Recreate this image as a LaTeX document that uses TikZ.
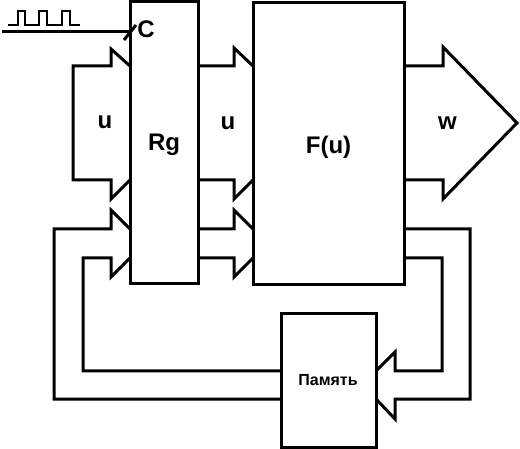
\documentclass[tikz,border=0pt]{standalone}
\usepackage{fontspec}
\setmainfont{Liberation Sans}
\tikzset{
  blk/.style={draw, line width=3pt, inner sep=0pt, outer sep=0pt},
  flow/.style={line width=3pt, line join=miter},
  pulse/.style={line width=2.5pt, line join=miter},
  lbl/.style={font=\bfseries\fontsize{24}{24}\selectfont, anchor=base, inner sep=0pt},
  small/.style={font=\bfseries\fontsize{16}{16}\selectfont, anchor=base, inner sep=0pt}
}
\begin{document}
\begin{tikzpicture}[x=1pt, y=-1pt]
\useasboundingbox (0,0) rectangle (520,449);
% blocks
\node[blk, minimum width=68pt, minimum height=282pt] (rg) at (164,143) {};
\node[blk, minimum width=151pt, minimum height=282pt] (f) at (328.5,144) {};
\node[blk, minimum width=95pt, minimum height=133pt] (mem) at (328.5,380.5) {};
% labels
\node[lbl] (lu1) at (105,129) {u};
\node[lbl] (lrg) at (164,151) {Rg};
\node[lbl] (lu2) at (228,130) {u};
\node[lbl] (lf) at (328.5,154) {F(u)};
\node[lbl] (lw) at (447.5,130) {w};
\node[lbl] (lc) at (146,38) {C};
\node[small] (lmem) at (328,385) {Память};
% clock
\coordinate (clk) at (2,32);
\draw[flow] (clk) -- (rg.west |- clk);
\draw[flow] (124,40) -- (136,25);
\draw[pulse] (8,25) -- (18,25) -- (18,11) -- (25,11) -- (25,25) -- (39,25) -- (39,11) -- (47,11) -- (47,25)
  -- (62,25) -- (62,11) -- (70,11) -- (70,25) -- (80,25);
% input block arrow u
\draw[flow] (rg.west |- 0,66) -- (111,49) -- (111,66) -- (73,66) -- (73,180) -- (111,180) -- (111,199) -- (rg.west |- 0,180);
% Rg -> F block arrow u
\draw[flow] (rg.east |- 0,66) -- (234,66) -- (234,48) -- (f.west |- 0,66);
\draw[flow] (rg.east |- 0,180) -- (234,180) -- (234,199) -- (f.west |- 0,180);
% output w
\draw[flow] (f.east |- 0,66) -- (443,66) -- (443,47) -- (517,123) -- (443,199) -- (443,180) -- (f.east |- 0,180);
% feedback from memory into Rg
\draw[flow] (rg.west |- 0,229) -- (111,210) -- (111,229) -- (54,229) -- (54,399) -- (mem.west |- 0,399);
\draw[flow] (rg.west |- 0,258) -- (111,277) -- (111,258) -- (83,258) -- (83,371) -- (mem.west |- 0,371);
% Rg -> F second row
\draw[flow] (rg.east |- 0,229) -- (234,229) -- (234,210) -- (f.west |- 0,229);
\draw[flow] (rg.east |- 0,258) -- (234,258) -- (234,277) -- (f.west |- 0,258);
% F -> memory
\draw[flow] (f.east |- 0,229) -- (470,229) -- (470,399) -- (395,399) -- (395,419) -- (mem.east |- 0,399);
\draw[flow] (f.east |- 0,258) -- (442,258) -- (442,371) -- (395,371) -- (395,352) -- (mem.east |- 0,371);
\end{tikzpicture}
\end{document}
